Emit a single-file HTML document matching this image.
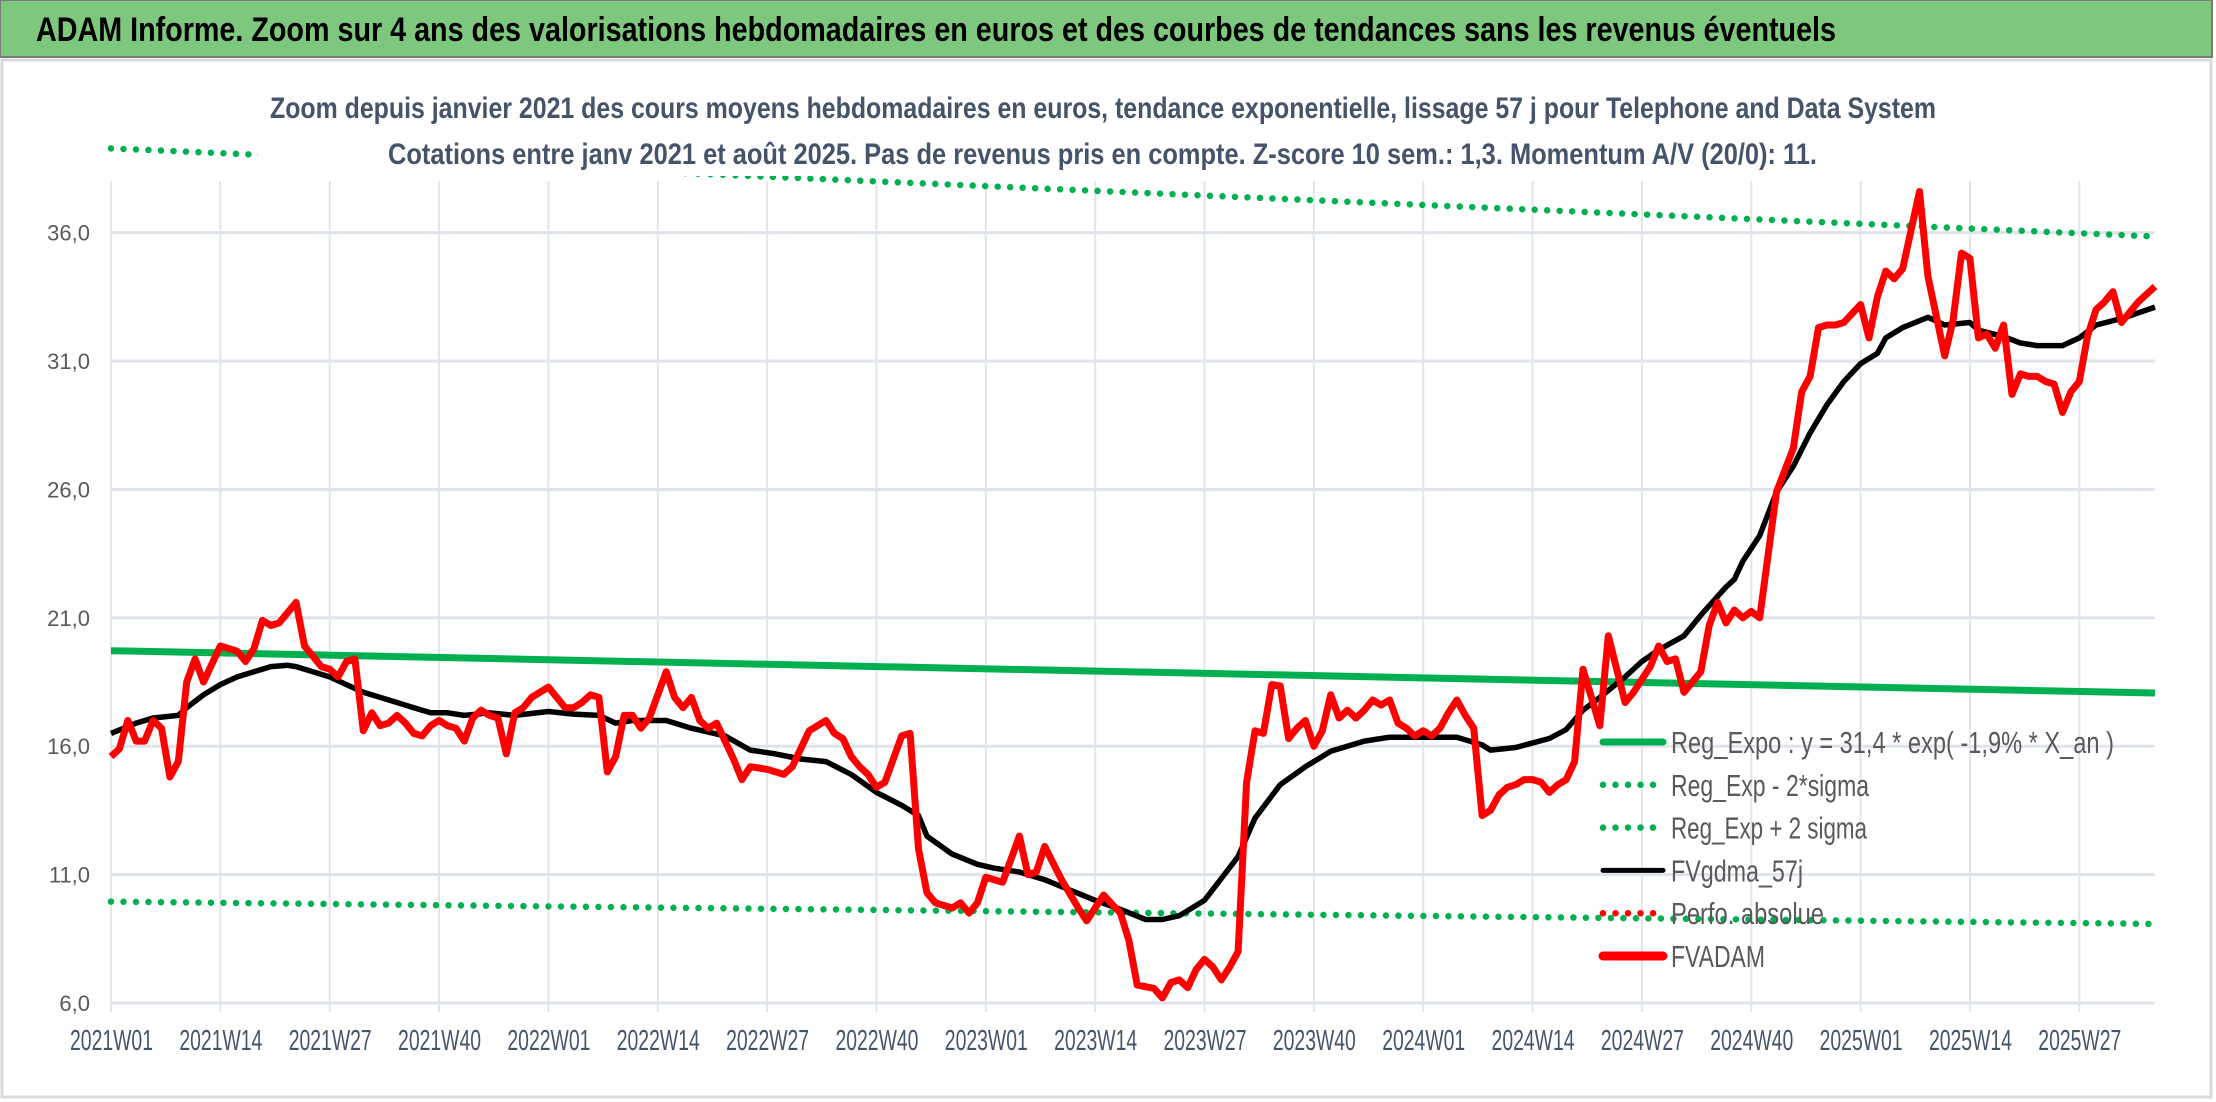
<!DOCTYPE html>
<html><head><meta charset="utf-8"><style>
html,body{margin:0;padding:0;background:#fff;}
svg{display:block;font-family:"Liberation Sans",sans-serif;}
</style></head><body>
<svg id="chart" width="2216" height="1102" viewBox="0 0 2216 1102" xmlns="http://www.w3.org/2000/svg">
<rect x="0" y="0" width="2216" height="1102" fill="#fff"/>
<rect x="0" y="0" width="2212" height="57" fill="#7ec87e" stroke="#7a7a7a" stroke-width="2"/>
<text x="36" y="41" font-size="34" font-weight="bold" fill="#000" textLength="1800" lengthAdjust="spacingAndGlyphs">ADAM Informe. Zoom sur 4 ans des valorisations hebdomadaires en euros et des courbes de tendances sans les revenus éventuels</text>
<rect x="2" y="60" width="2209" height="1037" fill="none" stroke="#d9d9d9" stroke-width="3"/>
<g id="grid"></g>
<g id="series"></g>
<rect x="258" y="80" width="1692" height="96" fill="#fff"/>
<text x="270" y="118" font-size="30" font-weight="bold" fill="#44546a" textLength="1666" lengthAdjust="spacingAndGlyphs">Zoom depuis janvier 2021 des cours moyens hebdomadaires en euros, tendance exponentielle, lissage 57 j pour Telephone and Data System</text>
<text x="388" y="164" font-size="30" font-weight="bold" fill="#44546a" textLength="1429" lengthAdjust="spacingAndGlyphs">Cotations entre janv 2021 et août 2025. Pas de revenus pris en compte. Z-score 10 sem.: 1,3. Momentum A/V (20/0): 11.</text>
<g id="axes"></g>
<g id="legend"></g>
</svg>
<script>
const xTickLabels = ["2021W01","2021W14","2021W27","2021W40","2022W01","2022W14","2022W27","2022W40","2023W01","2023W14","2023W27","2023W40","2024W01","2024W14","2024W27","2024W40","2025W01","2025W14","2025W27"];
const yTicks = [6,11,16,21,26,31,36];
const yTickLabels = ["6,0","11,0","16,0","21,0","26,0","31,0","36,0"];
const redWeeks = [0,1,2,3,4,5,6,7,8,9,10,11,13,14,15,16,17,18,19,20,22,23,25,26,27,28,29,30,31,32,33,34,35,36,37,38,39,40,41,42,43,44,45,46,47,48,49,50,52,53,54,55,56,57,58,59,60,61,62,63,64,66,67,68,69,70,71,72,74,75,76,78,80,81,83,85,86,87,88,89,90,91,92,94,95,96,97,98,100,101,102,103,104,106,108,109,110,111,113,115,116,118,120,121,122,124,125,126,127,128,129,130,131,132,133,134,135,136,137,138,139,140,141,142,143,144,145,146,147,148,149,150,151,152,153,154,155,156,157,158,159,160,161,162,163,164,165,166,167,168,169,170,171,172,173,174,175,176,177,178,179,180,181,182,183,184,185,186,187,188,189,190,191,192,193,194,195,196,198,200,201,202,203,204,205,206,208,209,210,211,212,213,215,216,218,219,220,221,222,223,224,225,226,227,228,229,230,231,232,233,234,235,236,237,238,239,240,241,242,243];
const redValues = [15.6,15.9,17.0,16.2,16.2,17.0,16.7,14.8,15.4,18.5,19.4,18.5,19.9,19.8,19.7,19.3,19.8,20.9,20.7,20.8,21.6,19.9,19.1,19.0,18.7,19.3,19.4,16.6,17.3,16.8,16.9,17.2,16.9,16.5,16.4,16.8,17.0,16.8,16.7,16.2,17.1,17.4,17.2,17.1,15.7,17.3,17.5,17.9,18.3,17.9,17.5,17.5,17.7,18.0,17.9,15.0,15.6,17.2,17.2,16.7,17.1,18.9,17.9,17.5,17.9,17.0,16.7,16.9,15.5,14.7,15.2,15.1,14.9,15.2,16.6,17.0,16.5,16.3,15.6,15.2,14.9,14.4,14.6,16.4,16.5,12.0,10.3,9.9,9.7,9.9,9.5,9.9,10.9,10.7,12.5,11.0,11.1,12.1,10.8,9.7,9.2,10.2,9.5,8.45,6.7,6.57,6.2,6.8,6.9,6.6,7.3,7.7,7.4,6.9,7.4,8.0,14.6,16.6,16.5,18.4,18.35,16.3,16.7,17.0,16.0,16.6,18.0,17.1,17.4,17.1,17.4,17.8,17.6,17.8,16.9,16.7,16.4,16.6,16.4,16.7,17.3,17.8,17.2,16.7,13.3,13.5,14.1,14.4,14.5,14.7,14.7,14.6,14.2,14.5,14.7,15.4,19.0,17.9,16.8,20.3,19.0,17.7,18.1,18.6,19.1,19.9,19.3,19.4,18.1,18.5,18.9,20.7,21.6,20.8,21.3,21.0,21.25,21.0,25.9,27.6,29.8,30.4,32.3,32.4,32.4,32.5,33.2,31.9,33.5,34.5,34.2,34.6,37.6,34.3,31.2,32.6,35.2,35.0,31.9,32.05,31.5,32.4,29.7,30.5,30.4,30.4,30.2,30.1,29.0,29.8,30.2,32.0,33.0,33.3,33.7,32.5,32.9,33.3,33.6,33.9];
const blackWeeks = [0,3,5,8,9,11,13,15,17,19,21,22,24,26,28,30,32,34,36,38,40,42,45,48,52,55,58,60,62,64,66,69,73,76,79,82,85,88,91,94,96,97,100,103,105,108,111,114,117,120,123,125,127,130,132,134,136,139,142,145,149,152,156,160,163,164,167,171,173,175,177,180,182,184,187,189,192,193,194,196,198,200,202,204,206,208,210,211,213,216,218,221,222,225,227,229,232,234,236,239,243];
const blackValues = [16.5,16.9,17.1,17.2,17.5,18.0,18.4,18.7,18.9,19.1,19.15,19.1,18.9,18.7,18.4,18.1,17.9,17.7,17.5,17.3,17.3,17.2,17.3,17.2,17.35,17.25,17.2,16.9,17.0,17.0,17.0,16.7,16.4,15.85,15.7,15.5,15.4,14.9,14.2,13.7,13.3,12.5,11.8,11.4,11.25,11.1,10.8,10.4,10.0,9.65,9.25,9.25,9.4,10.0,10.85,11.7,13.2,14.5,15.2,15.8,16.2,16.35,16.35,16.35,16.05,15.85,15.95,16.3,16.65,17.4,17.9,18.7,19.3,19.75,20.3,21.1,22.2,22.5,23.2,24.2,25.9,26.9,28.2,29.3,30.2,30.9,31.3,31.9,32.3,32.7,32.4,32.5,32.2,31.95,31.7,31.6,31.6,31.9,32.4,32.65,33.1];
const bandWeeks = [0,243];
const regValues = [19.72,18.07];
const lowerValues = [9.95,9.08];
const upperValues = [39.28,35.85];
const legendLabels = ["Reg_Expo : y = 31,4 * exp( -1,9% *  X_an )","Reg_Exp - 2*sigma","Reg_Exp + 2 sigma","FVgdma_57j","Perfo. absolue","FVADAM"];

const NS = "http://www.w3.org/2000/svg";
const X0 = 111, X1 = 2155, NW = 243, Y0 = 1003, YMIN = 6, PXU = 25.68;
function xs(i){ return X0 + i*(X1-X0)/NW; }
function ys(v){ return Y0 - (v-YMIN)*PXU; }
function mk(tag, attrs, parent){
  const e = document.createElementNS(NS, tag);
  for (const k in attrs) e.setAttribute(k, attrs[k]);
  parent.appendChild(e); return e;
}
const grid = document.getElementById('grid');
const axes = document.getElementById('axes');
const series = document.getElementById('series');
const legend = document.getElementById('legend');

yTicks.forEach((v,i)=>{
  const l = mk('line',{x1:X0,x2:X1,y1:ys(v),y2:ys(v),stroke:'#dfe3ea','stroke-width':3},grid);
  
  
  const t = mk('text',{x:90,y:ys(v)+8,'text-anchor':'end','font-size':22,fill:'#595959'},axes);
  t.textContent = yTickLabels[i];
  
  
});
xTickLabels.forEach((lab,i)=>{
  const x = xs(i*13);
  const g = mk('line',{x1:x,x2:x,y1:181,y2:1012,stroke:'#e1e5ec','stroke-width':2},grid);
  
  
  const t = mk('text',{x:x-41,y:1050,'font-size':29,fill:'#44546a',textLength:83,lengthAdjust:'spacingAndGlyphs'},axes);
  t.textContent = lab;
  
  
});

function pathFrom(wk, vals){
  return wk.map((w,i)=>(i?'L':'M')+xs(w).toFixed(1)+' '+ys(vals[i]).toFixed(1)).join(' ');
}
const dotted = {stroke:'#00b050','stroke-width':6.5,'stroke-linecap':'round','stroke-dasharray':'0 12.5',fill:'none'};
const up = mk('path',Object.assign({d:pathFrom(bandWeeks,upperValues)},dotted),series);


const lo = mk('path',Object.assign({d:pathFrom(bandWeeks,lowerValues)},dotted),series);


const rg = mk('path',{d:pathFrom(bandWeeks,regValues),stroke:'#00b050','stroke-width':7,fill:'none'},series);


const bk = mk('path',{d:pathFrom(blackWeeks,blackValues),stroke:'#000','stroke-width':5.5,fill:'none','stroke-linejoin':'round'},series);


const rd = mk('path',{d:pathFrom(redWeeks,redValues),stroke:'#ff0000','stroke-width':7,fill:'none','stroke-linejoin':'round'},series);



const legStyles = [
  {stroke:'#00b050','stroke-width':7,'stroke-linecap':'round'},
  {stroke:'#00b050','stroke-width':6.5,'stroke-linecap':'round','stroke-dasharray':'0 12.5'},
  {stroke:'#00b050','stroke-width':6.5,'stroke-linecap':'round','stroke-dasharray':'0 12.5'},
  {stroke:'#000','stroke-width':5,'stroke-linecap':'round'},
  {stroke:'#ff0000','stroke-width':6.5,'stroke-linecap':'round','stroke-dasharray':'0 12.5'},
  {stroke:'#ff0000','stroke-width':9,'stroke-linecap':'round'}
];
const legLens = [443,198,196,132,153,94];
legendLabels.forEach((lab,i)=>{
  const y = 742 + i*42.8;
  const g = mk('g',{},legend);
  
  
  const l = mk('line',Object.assign({x1:1603,x2:1663,y1:y,y2:y},legStyles[i]),g);
  
  
  const t = mk('text',{x:1671,y:y+11,'font-size':31,fill:'#595959',textLength:legLens[i],lengthAdjust:'spacingAndGlyphs'},g);
  t.textContent = lab;
  
  
});
</script>
</body></html>
